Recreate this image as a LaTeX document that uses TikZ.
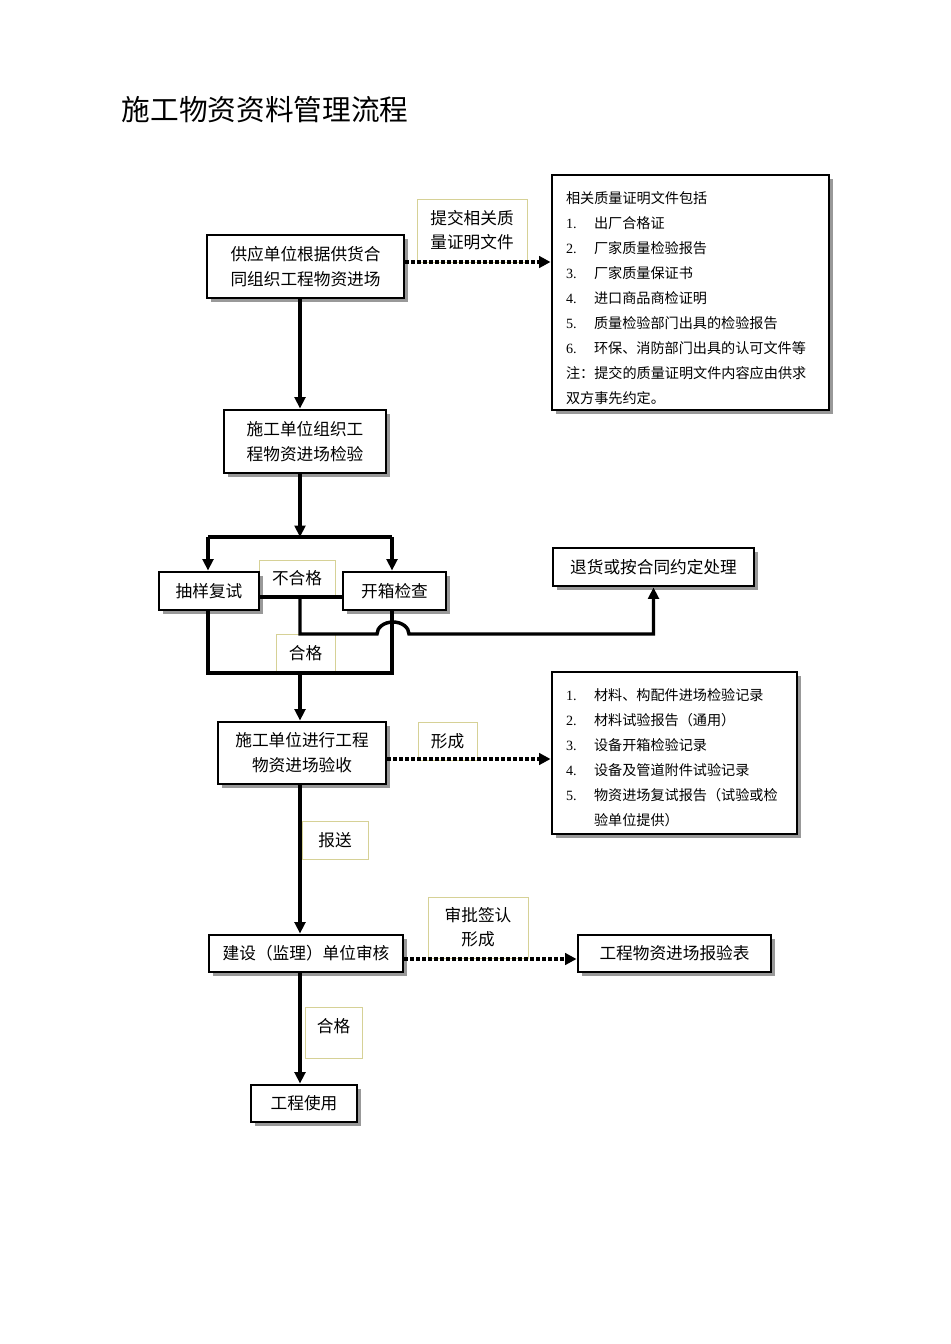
\documentclass[tikz,border=0pt]{standalone}
\usepackage{fontspec}
\setmainfont{Noto Sans CJK SC}
\newfontfamily\lat{Liberation Serif}
\usetikzlibrary{shadows,arrows.meta}
\definecolor{labc}{RGB}{214,209,150}
\newcommand\itm[1]{\makebox[21pt][l]{\lat #1}}
\tikzset{
 box/.style={draw=black, line width=2.2pt, fill=white, inner sep=0pt, align=center,
   font=\fontsize{12.5pt}{18.75pt}\selectfont,
   drop shadow={shadow xshift=2.8pt, shadow yshift=-2.8pt, fill=gray!80, opacity=1}},
 lab/.style={draw=labc, line width=0.7pt, fill=white, inner sep=0pt, align=center,
   font=\fontsize{12.5pt}{18pt}\selectfont},
 listbox/.style={box, align=left, inner xsep=10.5pt, font=\fontsize{10.6pt}{18.75pt}\selectfont},
 conn/.style={line width=2.6pt, -{Triangle[length=8.5pt,width=8pt]}},
 plain/.style={line width=2.6pt},
 dots/.style={line width=2.9pt, dash pattern=on 2.4pt off 2.1pt, -{Triangle[length=8.5pt,width=8.5pt]}},
}
\begin{document}
\begin{tikzpicture}[x=0.75pt,y=-0.75pt]
\fill[white] (0,0) rectangle (950,1344);
\useasboundingbox (0,0) rectangle (950,1344);

\node[anchor=west, font=\fontsize{21.5pt}{26pt}\selectfont] (title) at (117,110) {施工物资资料管理流程};

% labels
\node[lab, minimum width=82.5pt, minimum height=47.25pt] (l1) at (472,230.5) {提交相关质\\量证明文件};
\node[lab, minimum width=57pt, minimum height=27.75pt] (l2) at (297,578.5) {不合格};
\node[lab, minimum width=44.25pt, minimum height=28.5pt] (l3) at (305.5,653) {合格};
\node[lab, minimum width=44.25pt, minimum height=28.5pt] (l4) at (447.5,741) {形成};
\node[lab, minimum width=49.5pt, minimum height=28.5pt] (l5) at (335,840) {报送};
\node[lab, minimum width=75pt, minimum height=45.75pt] (l6) at (478,927.5) {审批签认\\形成};
\node[lab, minimum width=42.75pt, minimum height=38.25pt] (l7) at (333.5,1032.5) {合格\\[-7pt]\mbox{}};

% boxes
\node[box, minimum width=147.75pt, minimum height=47.25pt] (b1) at (305.5,266.5) {供应单位根据供货合\\同组织工程物资进场};
\node[listbox, text width=186.75pt, minimum width=207.75pt, minimum height=176.25pt] (r1) at (690.5,292.5) {%
\rule{0pt}{17pt}相关质量证明文件包括\\
\itm{1.}出厂合格证\\
\itm{2.}厂家质量检验报告\\
\itm{3.}厂家质量保证书\\
\itm{4.}进口商品商检证明\\
\itm{5.}质量检验部门出具的检验报告\\
\itm{6.}环保、消防部门出具的认可文件等\\
注：提交的质量证明文件内容应由供求\\
双方事先约定。};
\node[box, minimum width=121.5pt, minimum height=47.25pt] (b2) at (305,441.5) {施工单位组织工\\程物资进场检验};
\node[box, minimum width=75pt, minimum height=28.5pt] (s1) at (209,591) {抽样复试};
\node[box, minimum width=77.25pt, minimum height=28.5pt] (s2) at (394.5,591) {开箱检查};
\node[box, minimum width=150.75pt, minimum height=28.5pt] (rt) at (653.5,567) {退货或按合同约定处理};
\node[box, minimum width=126pt, minimum height=46.5pt] (b3) at (302,753) {施工单位进行工程\\物资进场验收};
\node[listbox, text width=162.75pt, minimum width=183.75pt, minimum height=121.5pt] (r2) at (674.5,753) {%
\rule{0pt}{15.5pt}\itm{1.}材料、构配件进场检验记录\\
\itm{2.}材料试验报告（通用）\\
\itm{3.}设备开箱检验记录\\
\itm{4.}设备及管道附件试验记录\\
\itm{5.}物资进场复试报告（试验或检\\
\hspace*{21pt}验单位提供）};
\node[box, minimum width=145.5pt, minimum height=27.75pt] (b4) at (306,953.5) {建设（监理）单位审核};
\node[box, minimum width=144.75pt, minimum height=27.75pt] (b5) at (674.5,953.5) {工程物资进场报验表};
\node[box, minimum width=79.5pt, minimum height=27.75pt] (b6) at (304,1103.5) {工程使用};

% helper coordinates
\coordinate (sp) at (300,537);
\coordinate (jl) at (208,537);
\coordinate (jr) at (392,537);
\coordinate (nq) at (300,597);
\coordinate (jy) at (300,634);
\coordinate (ja) at (377,634);
\coordinate (ml) at (208,673);
\coordinate (mr) at (392,673);
\coordinate (mc) at (300,673);
\coordinate (d1) at (0,262);
\coordinate (d2) at (0,759);
\coordinate (d3) at (0,959);

% main spine
\draw[conn] (b1.south -| sp) -- (b2.north -| sp);
\draw[conn] (b2.south -| sp) -- (sp);
\draw[plain] (jl) -- (jr);
\draw[conn] (jl) -- (jl |- s1.north);
\draw[conn] (jr) -- (jr |- s2.north);

% not qualified path
\draw[plain] (s1.east |- nq) -- (s2.west |- nq);
\draw[conn] (nq) -- (jy) -- (ja) arc[start angle=180, end angle=360, x radius=16, y radius=12]
   -- (rt.south |- jy) -- (rt.south);

% qualified merge
\draw[plain] (s1.south -| ml) -- (ml) -- (mr) -- (s2.south -| mr);
\draw[conn] (mc) -- (b3.north -| mc);

\draw[conn] (b3.south -| sp) -- (b4.north -| sp);
\draw[conn] (b4.south -| sp) -- (b6.north -| sp);

% dotted
\draw[dots] (b1.east |- d1) -- (r1.west |- d1);
\draw[dots] (b3.east |- d2) -- (r2.west |- d2);
\draw[dots] (b4.east |- d3) -- (b5.west |- d3);
\end{tikzpicture}
\end{document}
